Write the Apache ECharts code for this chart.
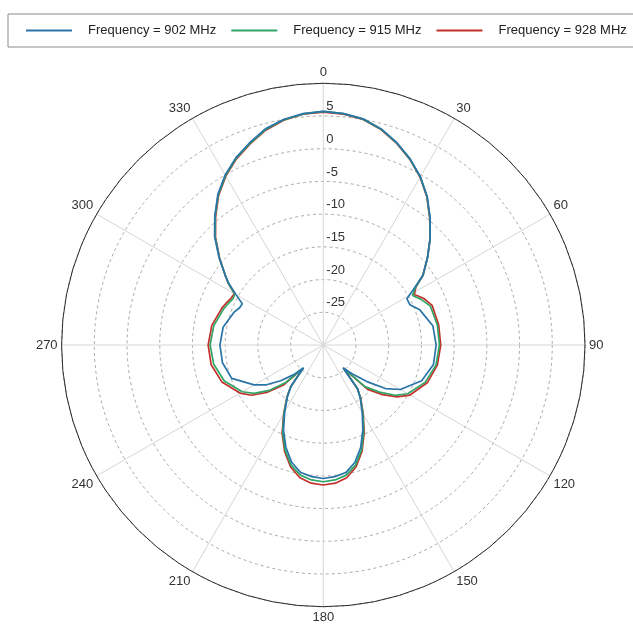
<!DOCTYPE html>
<html>
<head>
<meta charset="utf-8">
<script src="https://cdn.jsdelivr.net/npm/echarts@6/dist/echarts.min.js"></script>
<style>
html,body{margin:0;padding:0;background:#fff;}
#chart{width:633px;height:624px;}
</style>
</head>
<body>
<div id="chart"></div>
<script>
// Azimuth angles (degrees, clockwise from top)
const angles = [0,5,10,15,20,25,30,35,40,45,50,55,58,61,65,70,80,90,100,110,120,125,130,135,139,142,145,150,155,160,165,170,175,180,185,190,195,200,205,210,215,218,221,225,230,235,240,250,260,270,280,290,294,297,300,303,305,310,315,320,325,330,335,340,345,350,355,360];

// Gain (dB) for each frequency
const gain902 = [5.7,5.5,5.1,4.2,2.9,1.4,-0.3,-2.3,-4.6,-6.9,-9.2,-11.4,-13.6,-15.4,-15.4,-14.3,-13.0,-12.75,-12.9,-14.0,-16.4,-18.4,-21.3,-23.8,-25.4,-21.5,-20.2,-18.1,-15.7,-13.3,-11.4,-10.2,-9.8,-9.6,-9.8,-10.2,-11.4,-13.3,-15.6,-18.2,-20.5,-22.0,-25.4,-23.6,-21.5,-19.4,-17.8,-15.1,-14.35,-14.2,-14.45,-15.45,-16.0,-16.1,-14.6,-12.8,-11.8,-9.2,-6.5,-4.2,-1.9,0.0,1.6,2.9,4.2,5.0,5.5,5.7];
const gain915 = [5.7,5.5,5.05,4.15,2.85,1.35,-0.35,-2.35,-4.65,-6.9,-9.2,-11.4,-13.4,-14.4,-13.5,-12.6,-12.3,-12.25,-12.5,-13.4,-15.1,-16.6,-18.8,-21.0,-25.3,-21.5,-20.1,-17.9,-15.4,-12.9,-11.0,-9.8,-9.3,-9.1,-9.3,-9.8,-11.0,-12.9,-15.3,-18.0,-20.4,-21.9,-25.3,-21.9,-19.2,-17.1,-15.7,-13.9,-13.0,-12.7,-13.0,-13.8,-14.2,-14.5,-14.4,-12.7,-11.8,-9.25,-6.6,-4.3,-2.0,-0.1,1.5,2.8,4.1,4.95,5.45,5.7];
const gain928 = [5.6,5.4,5.0,4.1,2.8,1.3,-0.4,-2.4,-4.7,-6.9,-9.2,-11.4,-13.3,-14.1,-13.1,-12.3,-12.1,-12.05,-12.3,-13.1,-14.7,-16.2,-18.2,-20.4,-25.2,-21.5,-20.0,-17.8,-15.2,-12.7,-10.7,-9.4,-8.8,-8.6,-8.8,-9.4,-10.7,-12.7,-15.1,-17.9,-20.3,-21.9,-25.2,-21.3,-18.7,-16.6,-15.3,-13.5,-12.6,-12.4,-12.7,-13.5,-13.9,-14.2,-14.3,-12.7,-11.8,-9.3,-6.7,-4.4,-2.1,-0.2,1.4,2.7,4.0,4.9,5.4,5.6];

const seriesNames = ['Frequency = 902 MHz','Frequency = 915 MHz','Frequency = 928 MHz'];
const seriesColors = ['#2a74a8','#2fa567','#c4302b'];
const radiusMin = -30, radiusMax = 10, radiusStep = 5;
const angleStep = 30;

const FONT = '"Liberation Sans", Arial, Helvetica, sans-serif';
const gains = [gain902, gain915, gain928];

const chart = echarts.init(document.getElementById('chart'), null, {renderer:'canvas'});
const option = {
  animation: false,
  backgroundColor: '#ffffff',
  textStyle: {fontFamily: FONT},
  legend: {
    data: seriesNames,
    left: 8, top: 14, width: 760,
    orient: 'horizontal',
    padding: [10, 17, 10, 17],
    itemWidth: 46, itemHeight: 14, itemGap: 14,
    itemStyle: {opacity: 0, borderWidth: 0},
    lineStyle: {width: 2},
    borderColor: '#8c8c8c', borderWidth: 1, borderRadius: 0,
    backgroundColor: '#fff',
    formatter: n => '{g|}' + n,
    textStyle: {fontSize: 13, color: '#222', fontFamily: FONT, rich: {g: {width: 11}}}
  },
  polar: {center: [323.3, 345], radius: 261.7},
  angleAxis: {
    type: 'value', min: 0, max: 360, interval: angleStep,
    startAngle: 90, clockwise: true,
    axisLine: {show: true, lineStyle: {color: '#2b2b2b', width: 1}},
    axisTick: {show: false},
    axisLabel: {margin: 4, color: '#333', fontSize: 13, fontFamily: FONT,
      formatter: v => (v >= 360 ? '' : String(v))},
    splitLine: {show: true, lineStyle: {color: '#d6d6d6', width: 1}}
  },
  radiusAxis: {
    type: 'value', min: radiusMin, max: radiusMax, interval: radiusStep,
    axisLine: {show: false}, axisTick: {show: false},
    axisLabel: {
      margin: -3, align: 'left', verticalAlign: 'bottom', padding: [0, 0, 3, 0],
      color: '#333', fontSize: 13, fontFamily: FONT,
      formatter: v => (v <= radiusMin || v >= radiusMax) ? '' : String(v)
    },
    splitLine: {show: true, lineStyle: {color: '#a9a9a9', width: 1, type: [3, 3]}}
  },
  series: seriesNames.map((name, i) => ({
    name: name,
    type: 'line',
    coordinateSystem: 'polar',
    symbol: 'none',
    showSymbol: false,
    smooth: false,
    z: 10 - i,
    lineStyle: {color: seriesColors[i], width: 1.7},
    itemStyle: {color: seriesColors[i]},
    data: angles.map((a, k) => [gains[i][k], a])
  }))
};
chart.setOption(option);
</script>
</body>
</html>
